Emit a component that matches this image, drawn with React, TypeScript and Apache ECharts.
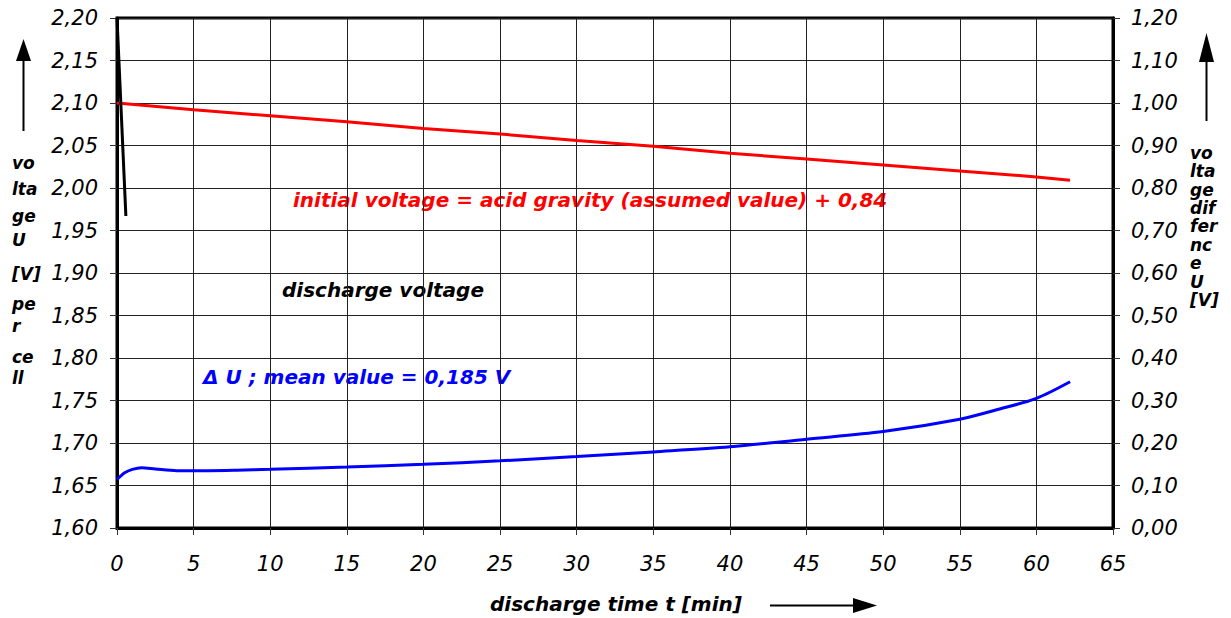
import React, { useEffect, useRef } from "react";
import * as echarts from "echarts";

const xTicks = { min: 0, max: 65, interval: 5 };
const leftAxis = { min: 1.6, max: 2.2, interval: 0.05 };
const rightAxis = { min: 0, max: 1.2, interval: 0.1 };

const redTime = [0, 5, 10, 15, 20, 25, 30, 35, 40, 45, 50, 55, 60, 62.2];
const redVoltage = [2.1, 2.092, 2.085, 2.078, 2.07, 2.0635, 2.056, 2.049, 2.041, 2.034, 2.027, 2.02, 2.013, 2.009];

const blackTime = [0, 0.58];
const blackVoltage = [2.2, 1.967];

const blueTime = [0, 0.5, 1, 1.6, 2.5, 3.9, 6, 7.8, 10, 15, 20, 25, 30, 35, 40, 45, 50, 55, 57.6, 60, 62.2];
const blueDelta = [0.114, 0.13, 0.138, 0.142, 0.139, 0.135, 0.135, 0.136, 0.138, 0.1435, 0.15, 0.158, 0.168, 0.179, 0.191, 0.209, 0.227, 0.256, 0.28, 0.305, 0.344];

const leftTitle = ["vo", "lta", "ge", "U", "[V]", "pe", "r", "ce", "ll"];
const leftTitleY = [163, 189, 216, 240, 274, 304, 326, 357, 378];
const rightTitle = ["vo", "lta", "ge", "dif", "fer", "nc", "e", "U", "[V]"];

const FONT = "'DejaVu Sans', sans-serif";

const zip = (a: number[], b: number[]) => a.map((v, i) => [v, b[i]]);
const comma = (v: number) => v.toFixed(2).replace(".", ",");

export default function App() {
  const ref = useRef<HTMLDivElement>(null);
  useEffect(() => {
    if (!ref.current) return;
    const chart = echarts.init(ref.current, null, { renderer: "svg" });
    const tickLabel = { fontFamily: FONT, fontStyle: "italic", fontSize: 21, color: "#000" };
    const graphics: any[] = [];
    leftTitle.forEach((s, i) =>
      graphics.push({
        type: "text",
        x: 12,
        y: leftTitleY[i],
        style: { text: s, font: `italic bold 17px ${FONT}`, fill: "#000", textVerticalAlign: "middle" },
      })
    );
    graphics.push({
      type: "text",
      x: 1190,
      y: 143.5,
      style: {
        text: rightTitle.join("\n"),
        font: `italic bold 17px ${FONT}`,
        lineHeight: 18.4,
        fill: "#000",
        textVerticalAlign: "top",
      },
    });
    graphics.push(
      { type: "line", shape: { x1: 23.5, y1: 131, x2: 23.5, y2: 58 }, style: { stroke: "#000", lineWidth: 2 } },
      { type: "polygon", shape: { points: [[16, 61], [31, 61], [23.5, 39]] }, style: { fill: "#000" } },
      { type: "line", shape: { x1: 1206.5, y1: 121, x2: 1206.5, y2: 58 }, style: { stroke: "#000", lineWidth: 2 } },
      { type: "polygon", shape: { points: [[1199, 62], [1214, 62], [1206.5, 33]] }, style: { fill: "#000" } },
      { type: "line", shape: { x1: 770, y1: 605.5, x2: 856, y2: 605.5 }, style: { stroke: "#000", lineWidth: 2 } },
      { type: "polygon", shape: { points: [[853, 598], [853, 613], [877, 605.5]] }, style: { fill: "#000" } },
      {
        type: "text", x: 616, y: 604,
        style: { text: "discharge time t [min]", font: `italic bold 20px ${FONT}`, fill: "#000", textAlign: "center", textVerticalAlign: "middle" },
      },
      {
        type: "text", x: 293, y: 200,
        style: { text: "initial voltage = acid gravity (assumed value) + 0,84", font: `italic bold 20px ${FONT}`, fill: "#ff0000", textVerticalAlign: "middle" },
      },
      {
        type: "text", x: 282, y: 290,
        style: { text: "discharge voltage", font: `italic bold 20px ${FONT}`, fill: "#000", textVerticalAlign: "middle" },
      },
      {
        type: "text", x: 203, y: 377,
        style: { text: "Δ U ; mean value = 0,185 V", font: `italic bold 20px ${FONT}`, fill: "#0000ff", textVerticalAlign: "middle" },
      }
    );

    chart.setOption({
      animation: false,
      backgroundColor: "#fff",
      grid: { left: 117, right: 118, top: 18, bottom: 90, show: true, borderColor: "#000", borderWidth: 3 },
      xAxis: {
        type: "value",
        min: xTicks.min,
        max: xTicks.max,
        interval: xTicks.interval,
        axisLine: { show: true, onZero: false, lineStyle: { color: "#000", width: 3 } },
        axisTick: { show: true, length: 7, lineStyle: { color: "#333", width: 1 } },
        axisLabel: { ...tickLabel, margin: 25 },
        splitLine: { show: true, lineStyle: { color: "#222", width: 1 } },
      },
      yAxis: [
        {
          type: "value",
          min: leftAxis.min,
          max: leftAxis.max,
          interval: leftAxis.interval,
          axisLine: { show: true, lineStyle: { color: "#000", width: 3 } },
          axisTick: { show: true, length: 7, lineStyle: { color: "#333", width: 1 } },
          axisLabel: { ...tickLabel, margin: 19, formatter: (v: number) => comma(v) },
          splitLine: { show: true, lineStyle: { color: "#222", width: 1 } },
        },
        {
          type: "value",
          position: "right",
          min: rightAxis.min,
          max: rightAxis.max,
          interval: rightAxis.interval,
          axisLine: { show: true, lineStyle: { color: "#000", width: 3 } },
          axisTick: { show: true, length: 7, lineStyle: { color: "#333", width: 1 } },
          axisLabel: { ...tickLabel, margin: 18, formatter: (v: number) => comma(v) },
          splitLine: { show: false },
        },
      ],
      series: [
        {
          type: "line",
          yAxisIndex: 0,
          data: zip(redTime, redVoltage),
          showSymbol: false,
          lineStyle: { color: "#ff0000", width: 3 },
        },
        {
          type: "line",
          yAxisIndex: 0,
          data: zip(blackTime, blackVoltage),
          showSymbol: false,
          lineStyle: { color: "#000", width: 3 },
        },
        {
          type: "line",
          yAxisIndex: 1,
          data: zip(blueTime, blueDelta),
          showSymbol: false,
          smooth: 0.3,
          lineStyle: { color: "#0000ff", width: 3 },
        },
      ],
      graphic: graphics,
    });
    return () => chart.dispose();
  }, []);
  return (
    <div
      ref={ref}
      style={{ position: "fixed", left: 0, top: 0, width: 1231, height: 618, background: "#fff" }}
    />
  );
}
